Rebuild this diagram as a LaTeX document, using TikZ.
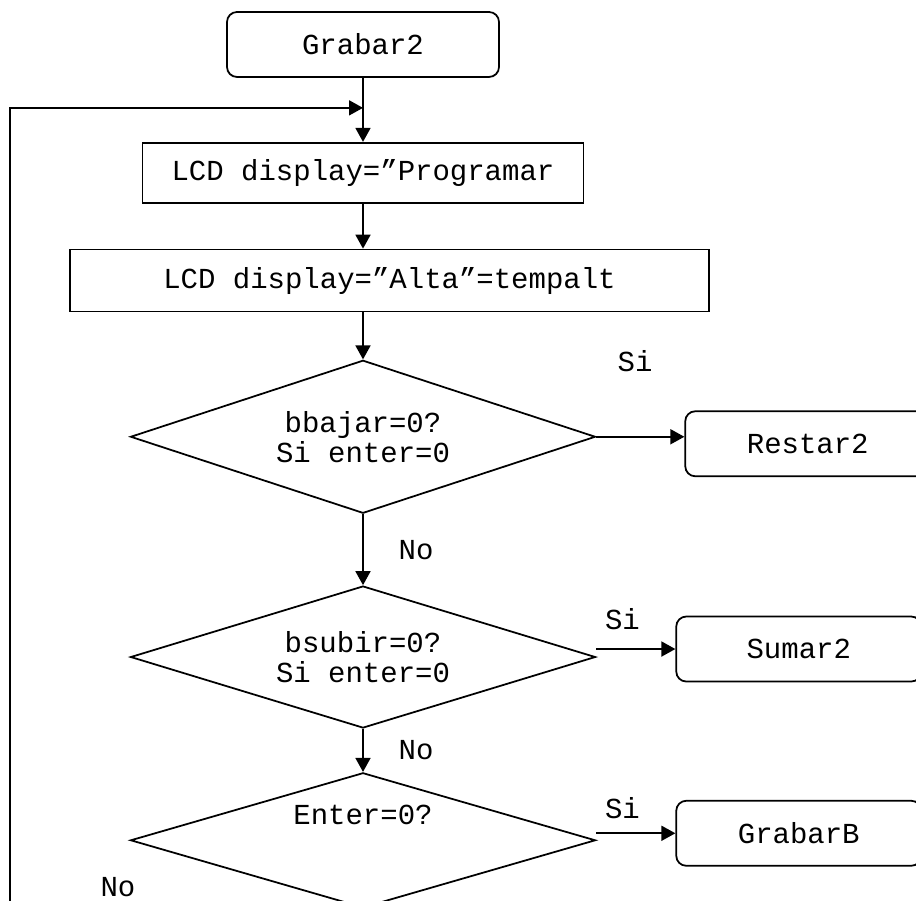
\documentclass[tikz,border=0pt]{standalone}
\usepackage{fontspec}
\setmainfont{Liberation Mono}
\usetikzlibrary{shapes.geometric, arrows.meta, positioning}

\begin{document}
\begin{tikzpicture}[
  font=\fontsize{16.5}{17}\selectfont,
  line width=1pt,
  term/.style={draw, rounded corners=0.2cm, minimum width=5.44cm, minimum height=1.3cm, align=center},
  proc/.style={draw, minimum height=1.2cm, align=center},
  dec/.style={draw, diamond, inner sep=0pt, minimum width=9.3cm, align=center},
  side/.style={draw, rounded corners=0.2cm, minimum width=4.9cm, minimum height=1.3cm, align=center},
  arr/.style={-{Triangle[length=0.28cm, width=0.3cm]}},
  lbl/.style={inner sep=1pt}
]
\useasboundingbox (0,0) rectangle (18.32,-18.02);
\clip (0,0) rectangle (18.32,-18.02);

\node[term] (grabar) at (7.26,-0.89) {Grabar2};
\node[proc, minimum width=8.82cm, below=1.28cm of grabar] (prog) {LCD display=”Programar};
\node[proc, minimum width=12.78cm, minimum height=1.24cm, below=0.9cm of prog, xshift=0.53cm] (alta) {LCD display=”Alta”=tempalt};

\node[dec, aspect=3.04, minimum height=3.06cm, below=0.94cm of alta, xshift=-0.53cm] (bajar) {bbajar=0?\\Si enter=0};
\node[dec, aspect=3.28, minimum height=2.84cm, below=1.42cm of bajar] (subir) {bsubir=0?\\Si enter=0};
\node[dec, aspect=3.45, minimum height=2.7cm, below=0.86cm of subir] (enter) {};
\node (entertxt) at ([yshift=0.5cm]enter.center) {Enter=0?};

\node[side, right=1.76cm of bajar, yshift=-0.14cm] (restar) {Restar2};
\node[side, right=1.58cm of subir, yshift=0.16cm] (sumar)  {Sumar2};
\node[side, right=1.58cm of enter, yshift=0.14cm] (grabarb) {GrabarB};

\coordinate[below=0.6cm of grabar] (join);
\coordinate (loopend) at (0.2,-18.5);

\draw[arr] (grabar) -- (prog);
\draw[arr] (loopend) |- (join);
\draw[arr] (prog.south) -- (prog.south |- alta.north);
\draw[arr] (bajar.north |- alta.south) -- (bajar.north);
\draw[arr] (bajar.east) -- node[lbl, pos=0.44, above=1.24cm] {Si} (bajar.east -| restar.west);
\draw[arr] (bajar) -- node[lbl, midway, right=0.66cm] {No} (subir);
\draw[arr] (subir.east |- sumar.west) -- node[lbl, pos=0.33, above=0.34cm] {Si} (sumar.west);
\draw[arr] (subir) -- node[lbl, midway, right=0.66cm] {No} (enter);
\draw[arr] (enter.east |- grabarb.west) -- node[lbl, pos=0.33, above=0.24cm] {Si} (grabarb.west);

\node[lbl] (no3) at (2.36,-17.74) {No};

\end{tikzpicture}
\end{document}
